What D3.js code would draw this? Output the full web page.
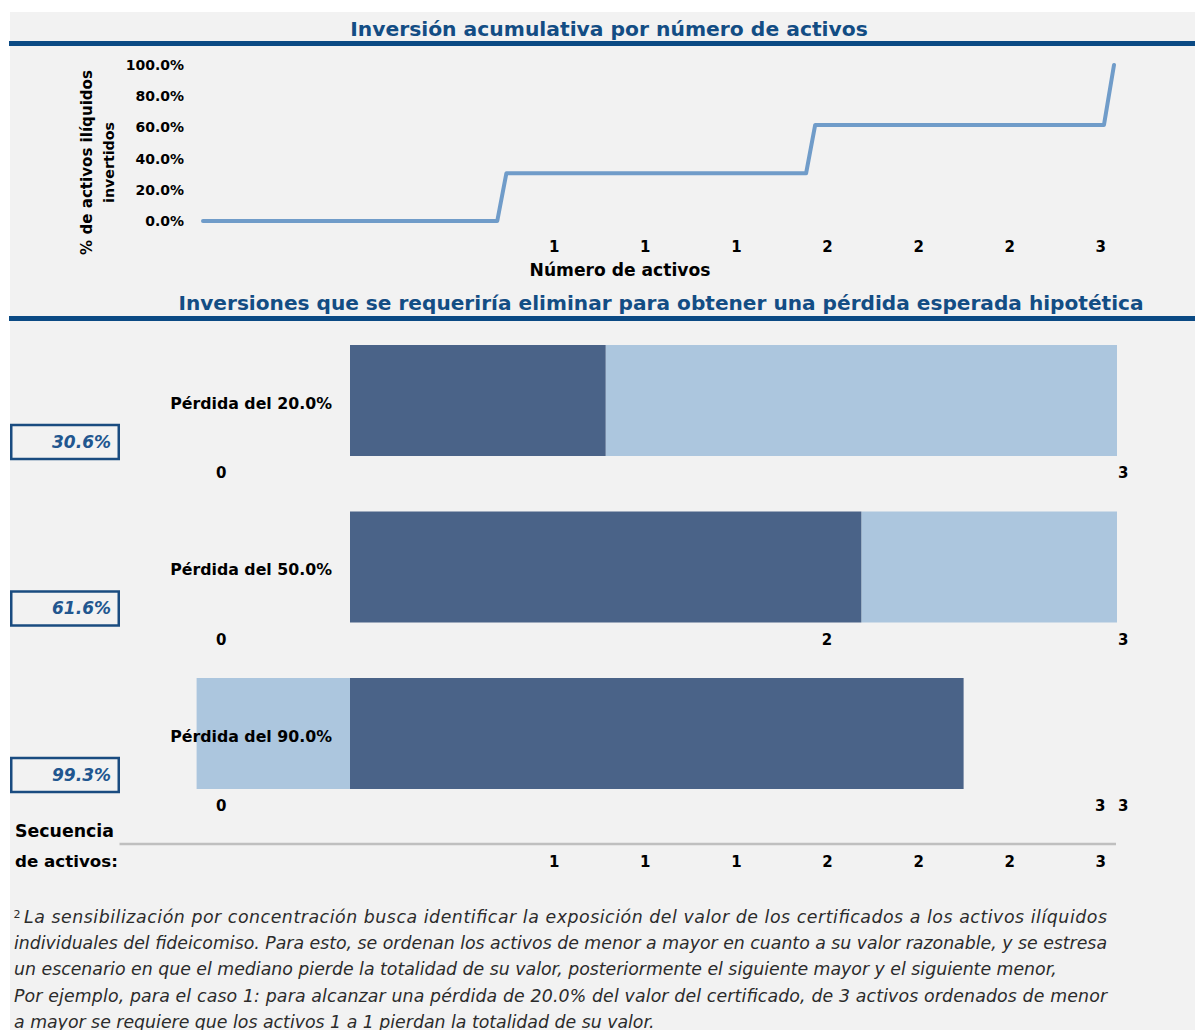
<!DOCTYPE html>
<html><head><meta charset="utf-8">
<script src="https://cdn.jsdelivr.net/npm/d3@7"></script>
<style>
html,body{margin:0;padding:0;background:#fff;}
svg{display:block;}
</style></head><body>
<svg id="chart" width="1195" height="1030"></svg>
<script>
// ---------- DATA ----------
const title1 = "Inversión acumulativa por número de activos";
const title2 = "Inversiones que se requeriría eliminar para obtener una pérdida esperada hipotética";
const yAxisTitle = ["% de activos ilíquidos", "invertidos"];
const xAxisTitle = "Número de activos";
const yTickValues = [0, 20, 40, 60, 80, 100];
// cumulative investment step line (position along sequence 0..100, % invested)
const cumX = [0, 32.3, 33.3, 66.2, 67.2, 98.9, 100];
const cumY = [0, 0, 30.6, 30.6, 61.6, 61.6, 100];
const seqTickPos = [38.5, 48.5, 58.5, 68.5, 78.5, 88.5, 98.5];
const seqTickLabels = ["1", "1", "1", "2", "2", "2", "3"];
// scenarios
const scenarios = ["Pérdida del 20.0%", "Pérdida del 50.0%", "Pérdida del 90.0%"];
const scenarioPct = ["30.6%", "61.6%", "99.3%"];
const darkStart = [0, 0, 0];
const darkEnd = [1, 2, 2.4];
const lightStart = [1, 2, -0.6];
const lightEnd = [3, 3, 0];
const rowLabelPos = [[2, 101], [2, 68.5, 101], [2, 98.5, 101]];
const rowLabelText = [["0", "3"], ["0", "2", "3"], ["0", "3", "3"]];
const seqTitle = ["Secuencia", "de activos:"];
const footSup = "2";
const footnoteLines = [
  "La sensibilización por concentración busca identificar la exposición del valor de los certificados a los activos ilíquidos",
  "individuales del fideicomiso. Para esto, se ordenan los activos de menor a mayor en cuanto a su valor razonable, y se estresa",
  "un escenario en que el mediano pierde la totalidad de su valor, posteriormente el siguiente mayor y el siguiente menor,",
  "Por ejemplo, para el caso 1: para alcanzar una pérdida de 20.0% del valor del certificado, de 3 activos ordenados de menor",
  "a mayor se requiere que los activos 1 a 1 pierdan la totalidad de su valor."
];

// ---------- STYLE ----------
const FONT = "'DejaVu Sans', sans-serif";
const C_BG = "#f2f2f2", C_TITLE = "#134d84", C_RULE = "#0b4a84";
const C_LINE = "#709cc9", C_DARK = "#4a6388", C_LIGHT = "#acc6de";
const C_BOX = "#1a4c80", C_BOXTXT = "#21568f", C_AXIS = "#bfbfbf";

const svg = d3.select("#chart");
svg.append("rect").attr("x", 10).attr("y", 12).attr("width", 1185).attr("height", 1018).attr("fill", C_BG);

function fit(sel, w) {
  const n = sel.node();
  const cur = n.getComputedTextLength();
  const fs = parseFloat(sel.attr("font-size"));
  if (cur > 0) sel.attr("font-size", fs * w / cur);
  return sel;
}
function txt(x, y, s, o) {
  o = o || {};
  const t = svg.append("text").attr("x", x).attr("y", y).text(s)
    .attr("font-family", FONT).attr("font-size", o.size || 15)
    .attr("font-weight", o.weight || "bold")
    .attr("font-style", o.style || "normal")
    .attr("fill", o.fill || "#000")
    .attr("text-anchor", o.anchor || "start");
  if (o.w) fit(t, o.w);
  return t;
}

// ---------- TITLES ----------
txt(609, 36, title1, {size: 20, fill: C_TITLE, anchor: "middle", w: 518});
svg.append("rect").attr("x", 9).attr("y", 41).attr("width", 1186).attr("height", 5).attr("fill", C_RULE);
txt(661, 310, title2, {size: 20, fill: C_TITLE, anchor: "middle", w: 966});
svg.append("rect").attr("x", 9).attr("y", 316).attr("width", 1186).attr("height", 5).attr("fill", C_RULE);

// ---------- TOP CHART ----------
const seqX = d3.scaleLinear().domain([0, 100]).range([203, 1114]);
const yTop = d3.scaleLinear().domain([0, 100]).range([221, 65]);

const yAxis = d3.axisLeft(yTop).tickValues(yTickValues)
  .tickFormat(d => d3.format(".1f")(d) + "%").tickSize(0).tickPadding(0);
const gy = svg.append("g").attr("transform", "translate(184,0)").call(yAxis);
gy.select(".domain").remove();
gy.selectAll("text").attr("font-family", FONT).attr("font-weight", "bold")
  .attr("font-size", 14).attr("fill", "#000");

const xAxisTop = d3.axisBottom(seqX).tickValues(seqTickPos)
  .tickFormat((d, i) => seqTickLabels[i]).tickSize(0).tickPadding(0);
const gx = svg.append("g").attr("transform", "translate(0,241)").call(xAxisTop);
gx.select(".domain").remove();
gx.selectAll("text").attr("font-family", FONT).attr("font-weight", "bold")
  .attr("font-size", 15).attr("fill", "#000");

txt(620, 276, xAxisTitle, {size: 15, anchor: "middle", w: 181});

const yt1 = svg.append("text").attr("transform", "translate(92,162.5) rotate(-90)")
  .attr("text-anchor", "middle").attr("font-family", FONT).attr("font-weight", "bold")
  .attr("font-size", 14).text(yAxisTitle[0]);
fit(yt1, 185);
const yt2 = svg.append("text").attr("transform", "translate(114,162.5) rotate(-90)")
  .attr("text-anchor", "middle").attr("font-family", FONT).attr("font-weight", "bold")
  .attr("font-size", 14).text(yAxisTitle[1]);
fit(yt2, 81);

const pts = cumX.map((x, i) => [x, cumY[i]]);
svg.append("path").datum(pts)
  .attr("d", d3.line().x(d => seqX(d[0])).y(d => yTop(d[1])))
  .attr("fill", "none").attr("stroke", C_LINE).attr("stroke-width", 4)
  .attr("stroke-linejoin", "round").attr("stroke-linecap", "round");

// ---------- BARS ----------
const barX = d3.scaleLinear().domain([0, 3]).range([350, 1117]);
const rowY = d3.scaleBand().domain(scenarios).range([345, 789]).paddingInner(1 / 3).paddingOuter(0);
const bw = rowY.bandwidth();

scenarios.forEach((s, i) => {
  const y0 = rowY(s);
  const lx0 = Math.min(barX(lightStart[i]), barX(lightEnd[i]));
  const lx1 = Math.max(barX(lightStart[i]), barX(lightEnd[i]));
  svg.append("rect").attr("x", lx0).attr("y", y0).attr("width", lx1 - lx0).attr("height", bw).attr("fill", C_LIGHT);
  const dx0 = Math.min(barX(darkStart[i]), barX(darkEnd[i]));
  const dx1 = Math.max(barX(darkStart[i]), barX(darkEnd[i]));
  svg.append("rect").attr("x", dx0).attr("y", y0).attr("width", dx1 - dx0).attr("height", bw).attr("fill", C_DARK);

  // category label
  txt(332, y0 + bw / 2 + 8, s, {size: 15, anchor: "end", w: 162});

  // percentage box
  const bottom = y0 + bw;
  svg.append("rect").attr("x", 11.25).attr("y", bottom - 31).attr("width", 107.5).attr("height", 34)
    .attr("fill", "none").attr("stroke", C_BOX).attr("stroke-width", 2.5);
  txt(111, bottom - 8.5, scenarioPct[i], {size: 16, anchor: "end", style: "italic", fill: C_BOXTXT, w: 59});

  // sequence labels under bar
  rowLabelPos[i].forEach((p, j) => {
    txt(seqX(p), bottom + 22, rowLabelText[i][j], {size: 15, anchor: "middle"});
  });
});

// ---------- SEQUENCE AXIS ----------
svg.append("line").attr("x1", 119.5).attr("x2", 1116).attr("y1", 844).attr("y2", 844)
  .attr("stroke", C_AXIS).attr("stroke-width", 2.5);
const xAxisSeq = d3.axisBottom(seqX).tickValues(seqTickPos)
  .tickFormat((d, i) => seqTickLabels[i]).tickSize(0).tickPadding(0);
const gs = svg.append("g").attr("transform", "translate(0,856)").call(xAxisSeq);
gs.select(".domain").remove();
gs.selectAll("text").attr("font-family", FONT).attr("font-weight", "bold")
  .attr("font-size", 15).attr("fill", "#000");
txt(15, 837, seqTitle[0], {size: 15, w: 99});
txt(15, 866.5, seqTitle[1], {size: 15, w: 103});

// ---------- FOOTNOTE ----------
const footBase = [923, 949, 975, 1001.5, 1028];
const footStart = [24, 14, 14, 14, 14];
const footWidth = [1083, 1093, null, 1093, null];
// font size from natural line 3
const probe = txt(14, footBase[2], footnoteLines[2], {size: 15, weight: "normal", style: "italic", fill: "#2b2b2b"});
fit(probe, 1044);
const fFS = parseFloat(probe.attr("font-size"));
probe.remove();
txt(13.5, 918, footSup, {size: 11, weight: "normal", fill: "#2b2b2b"});
footnoteLines.forEach((l, i) => {
  const t = txt(footStart[i], footBase[i], l, {size: fFS, weight: "normal", style: "italic", fill: "#2b2b2b"});
  if (footWidth[i]) t.attr("textLength", footWidth[i]).attr("lengthAdjust", "spacing");
});
</script>
</body></html>
